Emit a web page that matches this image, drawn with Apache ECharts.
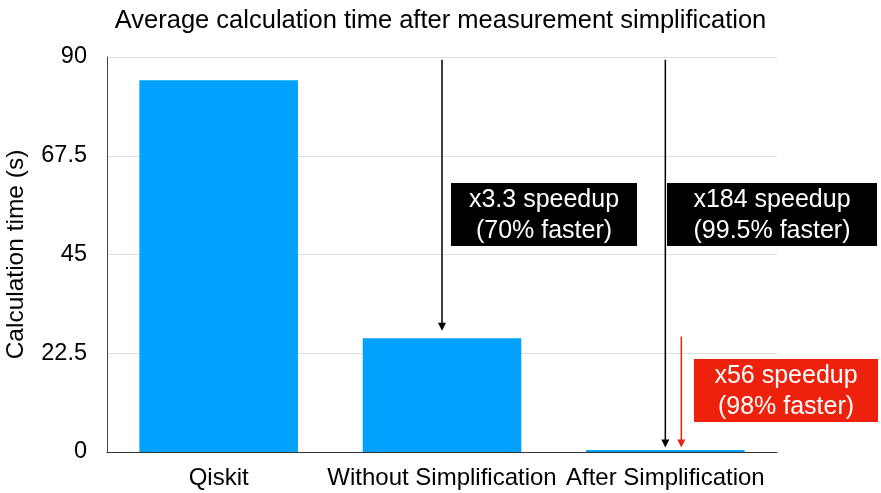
<!DOCTYPE html>
<html><head><meta charset="utf-8">
<script src="https://cdn.jsdelivr.net/npm/echarts@6/dist/echarts.min.js"></script>
<style>html,body{margin:0;padding:0;background:#fff}#c{width:881px;height:493px}</style>
</head><body><div id="c"></div>
<script>
const categories = ['Qiskit', 'Without Simplification', 'After Simplification'];
const times = [84.7, 25.9, 0.46];
const yTicks = [0, 22.5, 45, 67.5, 90];
// arrows: [category index, from value, to value, pixel offset, colour]
const arrows = [
  [1, 89.4, 27.6, 0, '#000'],
  [2, 89.4, 1.0, 0, '#000'],
  [2, 26.3, 1.0, 16, '#e8220e']
];
const notes = [
  {text: 'x3.3 speedup\n(70% faster)', color: '#000', x: 451, y: 183, w: 186, h: 63},
  {text: 'x184 speedup\n(99.5% faster)', color: '#000', x: 667, y: 183, w: 210, h: 63},
  {text: 'x56 speedup\n(98% faster)', color: '#ee220c', x: 694, y: 359, w: 184, h: 63}
];
const font = 'Liberation Sans, Arial, Helvetica, sans-serif';
const chart = echarts.init(document.getElementById('c'));
chart.setOption({
  animation: false,
  textStyle: {fontFamily: font},
  title: {text: 'Average calculation time after measurement simplification', left: 'center', top: 3,
    textStyle: {fontFamily: font, fontSize: 25.5, fontWeight: 'normal', color: '#000'}},
  grid: {left: 107, right: 104, top: 57, bottom: 41, outerBoundsMode: 'none', containLabel: false},
  xAxis: {type: 'category', data: categories,
    axisLine: {lineStyle: {color: '#333', width: 1}}, axisTick: {show: false},
    axisLabel: {color: '#000', fontSize: 24, margin: 14, fontFamily: font, interval: 0}},
  yAxis: {type: 'value', min: 0, max: 90, interval: 22.5,
    name: 'Calculation time (s)', nameLocation: 'middle', nameGap: 78, nameRotate: 90,
    nameTextStyle: {color: '#000', fontSize: 24.5, fontFamily: font},
    axisLine: {show: true, lineStyle: {color: '#444'}}, axisTick: {show: false},
    axisLabel: {color: '#000', fontSize: 23.5, margin: 20, fontFamily: font,
      formatter: v => yTicks.indexOf(v) >= 0 ? String(v) : ''},
    splitLine: {lineStyle: {color: '#ddd'}}},
  series: [
    {type: 'bar', data: times, barCategoryGap: '29%', itemStyle: {color: '#01a1fd'}},
    {type: 'custom', data: arrows.map(a => [a[0], a[1], a[2], a[3]]), z: 5,
      renderItem: (params, api) => {
        const a = arrows[params.dataIndex];
        const p1 = api.coord([api.value(0), api.value(1)]);
        const p2 = api.coord([api.value(0), api.value(2)]);
        const x = p1[0] + api.value(3);
        const c = a[4];
        return {type: 'group', children: [
          {type: 'line', shape: {x1: x, y1: p1[1], x2: x, y2: p2[1] - 6}, style: {stroke: c, lineWidth: 1.5}},
          {type: 'polygon', shape: {points: [[x - 4, p2[1] - 8], [x + 4, p2[1] - 8], [x, p2[1]]]}, style: {fill: c}}
        ]};
      }}
  ],
  graphic: notes.map(n => ({type: 'group', left: n.x, top: n.y, children: [
    {type: 'rect', shape: {x: 0, y: 0, width: n.w, height: n.h}, style: {fill: n.color}},
    {type: 'text', x: n.w / 2, y: n.h / 2 + 1, style: {text: n.text, fill: '#fff', font: '25px ' + font,
      align: 'center', verticalAlign: 'middle', lineHeight: 31}}
  ]}))
});
</script></body></html>
